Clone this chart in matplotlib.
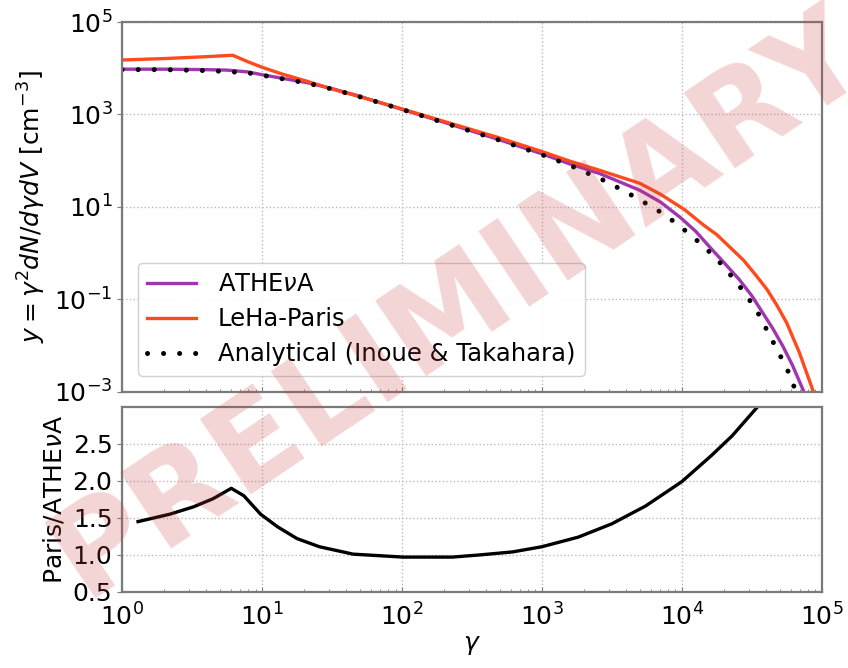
import numpy as np
import matplotlib
matplotlib.use("Agg")
import matplotlib.pyplot as plt

# ─── Spectra y = gamma^2 dN/dgamma dV ────────────────────────────────────────
gamma_athena = [1, 2.0, 3.98, 5.62, 7.94, 10, 14.1, 20.9, 31.6, 47.9, 100,
                200, 490, 1000, 1585, 2594, 5012, 7079, 9772, 12589, 15849,
                19953, 25704, 31623, 38019, 44668, 52481, 61660, 72444, 79433]
athena = [9550, 9550, 9330, 9120, 8320, 7240, 6030, 4900, 3630, 2570, 1290,
          676, 288, 141, 85.1, 52.5, 22.9, 12.6, 5.89, 2.95, 1.35,
          0.631, 0.269, 0.120, 0.0501, 0.0234, 0.0100, 0.0038, 0.00123,
          0.00063]

gamma_paris = [1, 2.0, 3.98, 6.17, 7.94, 10, 14.1, 20.9, 31.6, 47.9, 100,
               200, 490, 1000, 1585, 2594, 5012, 7079, 10471, 14125, 17783,
               22387, 27542, 33884, 40738, 47863, 56234, 69183, 85114, 91201]
paris = [15100, 16200, 17800, 19100, 13800, 10500, 7410, 5250, 3550, 2510,
         1320, 708, 316, 158, 97.7, 61.7, 32.4, 18.6, 8.71, 4.17, 2.51,
         1.29, 0.708, 0.331, 0.162, 0.0741, 0.0309, 0.00708, 0.00123,
         0.00063]

gamma_analytic = [1, 2.0, 3.98, 5.62, 7.94, 10, 14.1, 20.9, 31.6, 47.9, 100,
                  200, 490, 1000, 1585, 2884, 4786, 7586, 11749, 17378,
                  24547, 33884, 43652, 56234, 61660, 69183]
analytic = [9330, 9330, 8910, 8510, 7940, 7080, 5890, 4790, 3550, 2510, 1290,
            661, 282, 135, 79.4, 35.5, 15.5, 6.76, 2.40, 0.813,
            0.240, 0.0617, 0.0141, 0.00324, 0.00162, 0.00063]

# ─── Ratio Paris / ATHEvA ─────────────────────────────────────────────────────
gamma_ratio = [1.30, 2.19, 3.24, 4.47, 6.03, 7.41, 9.77, 12.9, 17.8, 25.7,
               44.7, 102, 229, 363, 617, 1000, 1820, 3160, 5500, 1.0e4,
               16200, 22900, 34700, 40000]
ratio = [1.45, 1.55, 1.65, 1.76, 1.90, 1.80, 1.55, 1.38, 1.22, 1.11,
         1.01, 0.97, 0.97, 1.00, 1.04, 1.11, 1.24, 1.42, 1.66, 1.99,
         2.34, 2.61, 3.00, 3.15]

C_ATHENA = "#a035b0"
C_PARIS = "#ff4a1c"
SPINE = "#7a7a7a"
FS = 18

plt.rcParams["font.size"] = FS
plt.rcParams["mathtext.fontset"] = "dejavusans"

fig = plt.figure(figsize=(8.48, 6.68), dpi=100)
gs = fig.add_gridspec(2, 1, height_ratios=[2, 1], hspace=0.055,
                      left=0.144, right=0.969, top=0.967, bottom=0.114)
ax = fig.add_subplot(gs[0])
axr = fig.add_subplot(gs[1], sharex=ax)

ax.plot(gamma_athena, athena, color=C_ATHENA, lw=2.4, label=r"ATHE$\nu$A")
ax.plot(gamma_paris, paris, color=C_PARIS, lw=2.4, label="LeHa-Paris")
ax.plot(gamma_analytic, analytic, color="black", lw=3.6, dash_capstyle="round",
        linestyle=(0, (0.01, 3.2)), label="Analytical (Inoue & Takahara)")

ax.set_xscale("log")
ax.set_yscale("log")
ax.set_xlim(1, 1e5)
ax.set_ylim(1e-3, 1e5)
ax.set_yticks([1e-3, 1e-1, 1e1, 1e3, 1e5])
ax.set_ylabel(r"$y = \gamma^2 dN/d\gamma dV$ [cm$^{-3}$]", fontsize=FS)
ax.tick_params(axis="x", which="both", direction="in", labelbottom=False)
ax.grid(True, which="major", linestyle=":", color="#bbbbbb", lw=1.0)
ax.legend(loc="lower left", fontsize=17.5, handlelength=2.0,
          handletextpad=0.9, labelspacing=0.45,
          bbox_to_anchor=(0.005, 0.01), framealpha=0.9, edgecolor="#cccccc")

axr.plot(gamma_ratio, ratio, color="black", lw=2.4)
axr.set_ylim(0.5, 3.0)
axr.set_yticks([0.5, 1.0, 1.5, 2.0, 2.5])
axr.set_ylabel(r"Paris/ATHE$\nu$A", fontsize=FS)
axr.set_xlabel(r"$\gamma$", fontsize=FS, labelpad=2)
axr.tick_params(axis="x", which="both", direction="in", pad=8)
axr.grid(True, which="major", linestyle=":", color="#bbbbbb", lw=1.0)

for a in (ax, axr):
    for s in a.spines.values():
        s.set_color(SPINE)
        s.set_linewidth(1.6)
    a.tick_params(which="both", color=SPINE)

fig.text(0.542, 0.545, "PRELIMINARY", rotation=34, fontsize=90,
         fontweight="bold", color="#d04040", alpha=0.22,
         ha="center", va="center", zorder=10)

fig.savefig("out.png", dpi=100)
